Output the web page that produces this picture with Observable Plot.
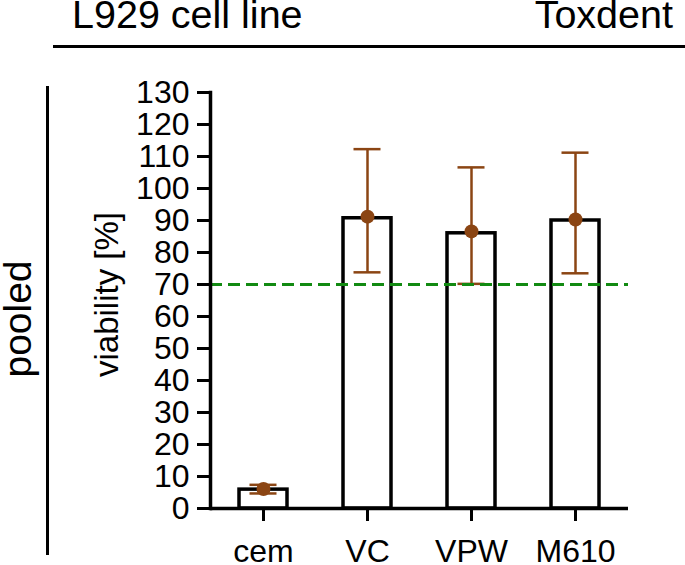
<!DOCTYPE html>
<html><head><meta charset="utf-8">
<script src="https://cdn.jsdelivr.net/npm/d3@7"></script>
<script src="https://cdn.jsdelivr.net/npm/@observablehq/plot@0.6"></script>
<style>
body{margin:0;background:#fff;font-family:"Liberation Sans",Arial,sans-serif;}
#wrap{position:relative;width:685px;height:565px;overflow:hidden;background:#fff;}
#chart{position:absolute;left:0;top:0;}
.hdr{position:absolute;font-size:39.5px;line-height:39.5px;color:#000;white-space:nowrap;}
#h1{left:72px;top:-5px;}
#h2{right:12px;top:-5px;}
#hline{position:absolute;left:53px;top:45px;width:632px;height:3px;background:#000;}
#pooled{position:absolute;left:17px;top:319px;font-size:39px;line-height:39px;white-space:nowrap;transform:translate(-50%,-50%) rotate(-90deg);}
#vline{position:absolute;left:46px;top:86px;width:2.5px;height:469px;background:#000;}
</style></head>
<body><div id="wrap">
<div id="chart"></div>
<div class="hdr" id="h1">L929 cell line</div>
<div class="hdr" id="h2">Toxdent</div>
<div id="hline"></div>
<div id="pooled">pooled</div>
<div id="vline"></div>
</div>
<script>
const categories = ["cem", "VC", "VPW", "M610"];
const barValues = [5.9, 90.7, 86.0, 90.0];
const meanValues = [6.1, 91.2, 86.6, 90.3];
const errLow = [4.7, 73.8, 70.2, 73.5];
const errHigh = [7.4, 112.3, 106.6, 111.2];
const yTicks = [0, 10, 20, 30, 40, 50, 60, 70, 80, 90, 100, 110, 120, 130];
const threshold = [70];
const yLabel = "viability [%]";

const data = categories.map((c, i) => ({cat: c, bar: barValues[i], mean: meanValues[i], lo: errLow[i], hi: errHigh[i]}));
const brown = "#8B4513";
const green = "#128a12";

const plot = Plot.plot({
  width: 685,
  height: 565,
  marginTop: 92,
  marginBottom: 57,
  marginLeft: 210,
  marginRight: 57,
  style: {fontFamily: "'Liberation Sans', Arial, sans-serif", color: "#000", background: "transparent"},
  x: {domain: categories, paddingInner: 0.54, paddingOuter: 0.27, label: null},
  y: {domain: [0, 130], label: null},
  marks: [
    Plot.barY(data, {x: "cat", y: "bar", fill: "white", stroke: "black", strokeWidth: 3.5}),
    Plot.ruleX(data, {x: "cat", y1: "lo", y2: "hi", stroke: brown, strokeWidth: 2.5}),
    Plot.tickY(data, {x: "cat", y: "lo", stroke: brown, strokeWidth: 2.5, insetLeft: 10.5, insetRight: 10.5}),
    Plot.tickY(data, {x: "cat", y: "hi", stroke: brown, strokeWidth: 2.5, insetLeft: 10.5, insetRight: 10.5}),
    Plot.dot(data, {x: "cat", y: "mean", r: 7, fill: brown}),
    Plot.ruleY(threshold, {stroke: green, strokeWidth: 3.2, strokeDasharray: "12,6"}),
    Plot.ruleY([0], {stroke: "black", strokeWidth: 3.5}),
    Plot.frame({anchor: "left", stroke: "black", strokeWidth: 3.5}),
    Plot.axisY({ticks: yTicks, tickSize: 13, tickPadding: 8, fontSize: 32, strokeWidth: 3, label: null, tickFormat: d => String(d)}),
    Plot.axisX({tickSize: 13, tickPadding: 18, fontSize: 32, strokeWidth: 3, label: null}),
    Plot.text([yLabel], {frameAnchor: "left", dx: -103, dy: -6, rotate: -90, fontSize: 33, textAnchor: "middle", lineAnchor: "middle"})
  ]
});
document.getElementById("chart").appendChild(plot);
</script>
</body></html>
